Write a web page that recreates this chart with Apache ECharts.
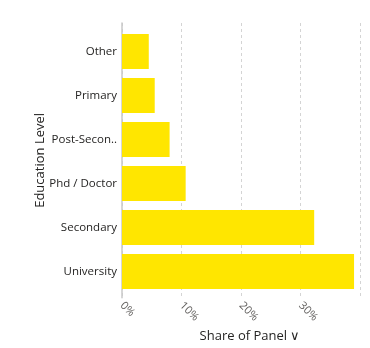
<!DOCTYPE html>
<html>
<head>
<meta charset="utf-8">
<script src="https://cdn.jsdelivr.net/npm/echarts@6/dist/echarts.min.js"></script>
<style>
  html, body { margin: 0; padding: 0; background: #fff; }
  #chart { width: 370px; height: 348px; }
</style>
</head>
<body>
<div id="chart"></div>
<script>
// Education level breakdown of the panel (bottom to top)
const categories = ['University', 'Secondary', 'Phd / Doctor', 'Post-Secon..', 'Primary', 'Other'];
const shares = [0.390, 0.323, 0.107, 0.080, 0.055, 0.045];
const xTicks = { min: 0, max: 0.4, interval: 0.1 };

const FONT = '"Open Sans", "Noto Sans", sans-serif';
const chart = echarts.init(document.getElementById('chart'), null, { renderer: 'canvas' });

chart.setOption({
  animation: false,
  grid: [
    // frame grid: dashed verticals, left axis line, tick labels
    { left: 122, right: 10, top: 23, bottom: 48 },
    // bar grid, inset slightly inside the frame
    { left: 122, right: 10, top: 29.5, height: 264 }
  ],
  xAxis: [
    {
      gridIndex: 0, type: 'value',
      min: xTicks.min, max: xTicks.max, interval: xTicks.interval,
      axisLine: { show: false }, axisTick: { show: false },
      splitLine: { show: true, lineStyle: { color: '#d4d4d4', type: [3, 3], width: 1 } },
      axisLabel: {
        rotate: -45, margin: 6, color: '#605E5C', fontSize: 11, fontFamily: FONT,
        showMaxLabel: false,
        formatter: v => Math.round(v * 100) + '%'
      },
      name: 'Share of Panel \u2228', nameLocation: 'middle', nameGap: 32,
      nameTextStyle: { color: '#252423', fontSize: 13, fontFamily: FONT, padding: [0, 0, 0, 18] }
    },
    {
      gridIndex: 1, type: 'value',
      min: xTicks.min, max: xTicks.max, interval: xTicks.interval,
      show: false
    }
  ],
  yAxis: [
    {
      gridIndex: 0, type: 'value', min: 0, max: 1,
      axisLine: { show: true, lineStyle: { color: '#c8c8c8', width: 1.5 } },
      axisTick: { show: false }, axisLabel: { show: false }, splitLine: { show: false },
      name: 'Education Level', nameLocation: 'middle', nameGap: 75,
      nameTextStyle: { color: '#252423', fontSize: 13, fontFamily: FONT }
    },
    {
      gridIndex: 1, type: 'category', data: categories,
      axisLine: { show: false }, axisTick: { show: false },
      axisLabel: { color: '#252423', fontSize: 11.5, fontFamily: FONT, margin: 5 }
    }
  ],
  series: [{
    type: 'bar',
    xAxisIndex: 1, yAxisIndex: 1,
    data: shares,
    barCategoryGap: '20%',
    itemStyle: { color: '#FFE600' }
  }]
});
</script>
</body>
</html>
